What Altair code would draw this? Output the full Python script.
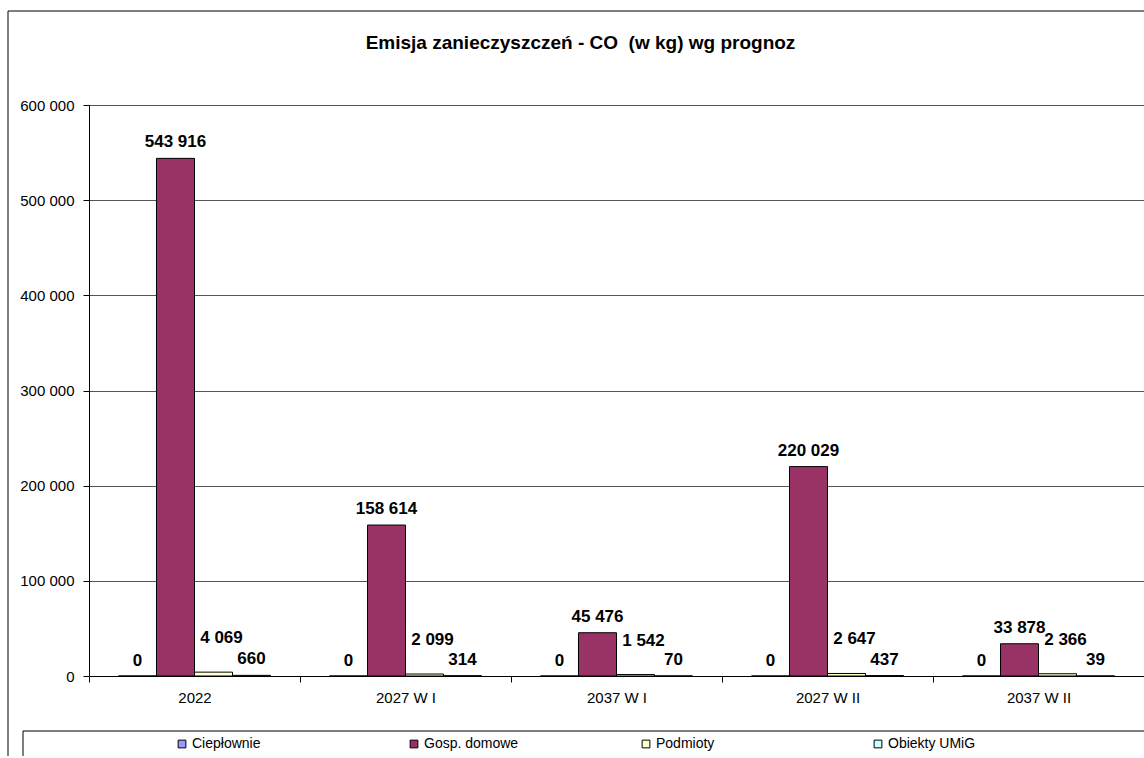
import altair as alt
import pandas as pd

categories = ["2022", "2027 W I", "2037 W I", "2027 W II", "2037 W II"]
series = ["Ciepłownie", "Gosp. domowe", "Podmioty", "Obiekty UMiG"]
cieplownie = [0, 0, 0, 0, 0]
gosp_domowe = [543916, 158614, 45476, 220029, 33878]
podmioty = [4069, 2099, 1542, 2647, 2366]
obiekty_umig = [660, 314, 70, 437, 39]
colors = ["#9999FF", "#993366", "#FFFFCC", "#CCFFFF"]
y_ticks = [0, 100000, 200000, 300000, 400000, 500000, 600000]

rows = []
for i, c in enumerate(categories):
    for s, vals in zip(series, [cieplownie, gosp_domowe, podmioty, obiekty_umig]):
        rows.append({"cat": c, "series": s, "value": vals[i]})
df = pd.DataFrame(rows)

W, H = 1055, 571
FONT = "Liberation Sans"

x = alt.X(
    "cat:N", sort=categories,
    scale=alt.Scale(paddingInner=0, paddingOuter=0),
    axis=alt.Axis(title=None, tickBand="extent", labelAngle=0, labelFont=FONT,
                  labelFontSize=15, labelColor="black", domainColor="black",
                  tickColor="black", tickSize=6, labelPadding=8, grid=False),
)
xo = alt.XOffset("series:N", sort=series,
                 scale=alt.Scale(paddingInner=0, paddingOuter=0.776))
y = alt.Y(
    "value:Q",
    scale=alt.Scale(domain=[0, 600000]),
    axis=alt.Axis(title=None, values=y_ticks, format=",d", labelFont=FONT,
                  labelFontSize=15, labelColor="black", domainColor="black",
                  tickColor="black", tickSize=6, labelPadding=9,
                  gridColor="#555555", gridWidth=1),
)
color = alt.Color(
    "series:N", sort=series,
    scale=alt.Scale(domain=series, range=colors),
    legend=alt.Legend(title=None, orient="none", legendX=86, legendY=632,
                      direction="horizontal", columns=4, gridAlign="all",
                      columnPadding=120, symbolType="square", symbolSize=60,
                      symbolStrokeColor="black", symbolStrokeWidth=1,
                      labelFont=FONT, labelFontSize=14, labelColor="black",
                      labelOffset=3),
)

base = alt.Chart(df)
bars = base.mark_bar(stroke="black", strokeWidth=1).encode(
    x=x, xOffset=xo, y=y, color=color
)


def labels(name, dy, dx=0):
    return base.transform_filter(alt.datum.series == name).mark_text(
        font=FONT, fontSize=17, fontWeight="bold", color="black",
        baseline="alphabetic", dy=dy, dx=dx,
    ).encode(
        x=alt.X("cat:N", sort=categories), xOffset=alt.XOffset("series:N", sort=series),
        y="value:Q", text=alt.Text("value:Q", format=",d"),
    )


frame = alt.Chart(pd.DataFrame({"k": [0]})).mark_rect(
    filled=False, stroke="black", strokeWidth=1
).encode(x=alt.value(-81), x2=alt.value(W + 40), y=alt.value(-94), y2=alt.value(H + 120))
legend_box = alt.Chart(pd.DataFrame({"k": [0]})).mark_rect(
    filled=False, stroke="black", strokeWidth=1
).encode(x=alt.value(-66), x2=alt.value(W + 40), y=alt.value(626), y2=alt.value(H + 120))

chart = alt.layer(
    frame, legend_box, bars,
    labels("Ciepłownie", -10), labels("Gosp. domowe", -11),
    labels("Podmioty", -29, 8), labels("Obiekty UMiG", -11),
).properties(
    width=W, height=H,
    title=alt.TitleParams("Emisja zanieczyszczeń - CO \u00a0(w kg) wg prognoz",
                          font=FONT, fontSize=19, fontWeight="bold", color="black",
                          anchor="middle", dx=-36, offset=-42),
    autosize=alt.AutoSizeParams(type="none"),
    padding={"left": 89, "top": 105, "right": 0, "bottom": 80},
).configure(
    locale=alt.Locale(number=alt.NumberLocale(decimal=",", thousands=" ",
                                              grouping=[3], currency=["", " zł"])),
).configure_view(stroke=None).configure_scale(bandPaddingInner=0)

chart.save("out.html", embed_options={"renderer": "svg", "actions": False})
